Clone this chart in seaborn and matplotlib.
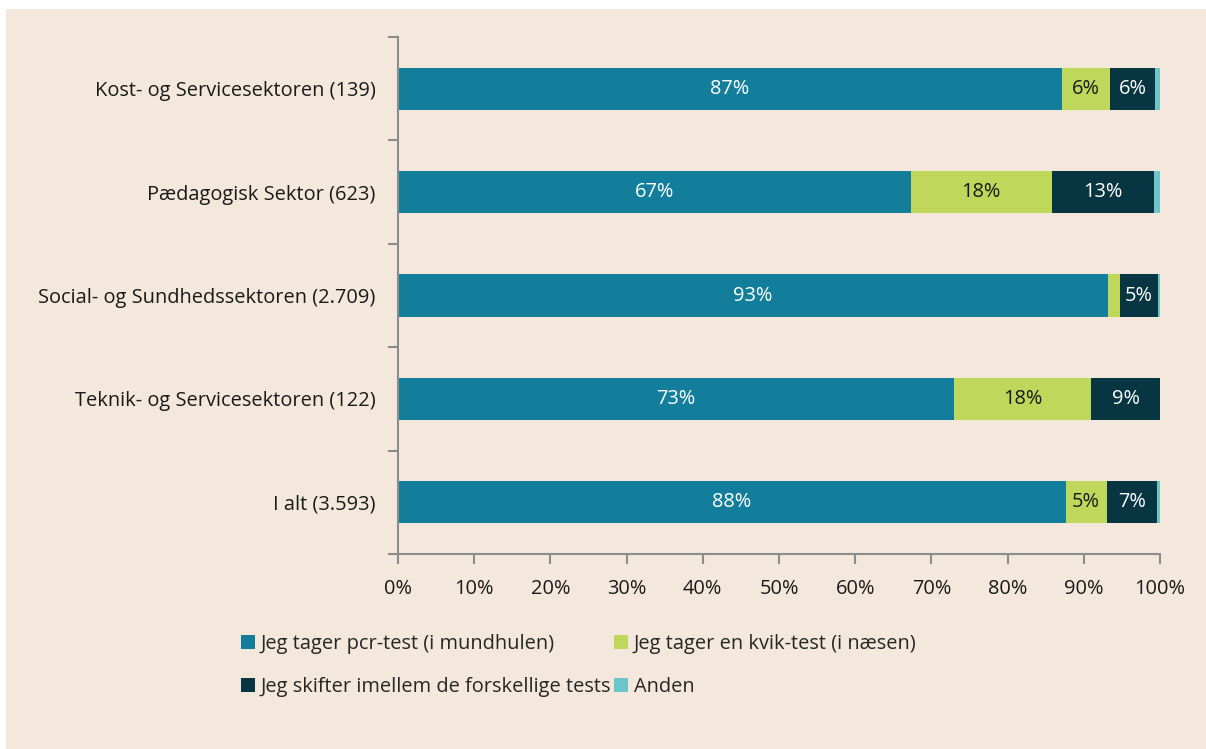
import numpy as np
import pandas as pd
import matplotlib
matplotlib.use("Agg")
import matplotlib.pyplot as plt
from matplotlib.patches import Rectangle, Patch
import seaborn as sns

categories = ["Kost- og Servicesektoren (139)", "Pædagogisk Sektor (623)",
              "Social- og Sundhedssektoren (2.709)", "Teknik- og Servicesektoren (122)",
              "I alt (3.593)"]
series = ["Jeg tager pcr-test (i mundhulen)", "Jeg tager en kvik-test (i næsen)",
          "Jeg skifter imellem de forskellige tests", "Anden"]
pcr = [87.1, 67.3, 93.2, 73.0, 87.6]
kvik = [6.4, 18.5, 1.6, 18.0, 5.4]
skifter = [5.8, 13.4, 4.9, 9.0, 6.6]
anden = [0.7, 0.8, 0.3, 0.0, 0.4]
colors = ["#137e9c", "#bfd75a", "#073642", "#6cc5c8"]
label_colors = ["white", "#1a1a1a", "white", "white"]

bg = "#f4e8dc"
fs = 14.4
sns.set_theme(style="white")
plt.rcParams["font.family"] = ["Open Sans", "DejaVu Sans"]

df = pd.DataFrame({"cat": categories, series[0]: pcr, series[1]: kvik,
                   series[2]: skifter, series[3]: anden})
vals = df[series].to_numpy()
cum = np.cumsum(vals, axis=1)

fig = plt.figure(figsize=(12.06, 7.49), dpi=100, facecolor="white")
fig.patches.append(Rectangle((6 / 1206, 0), 1, 1 - 9 / 749, transform=fig.transFigure,
                             facecolor=bg, edgecolor="none", zorder=-1))
ax = fig.add_axes([398 / 1206, 1 - 554 / 749, 762 / 1206, 517 / 749])
ax.set_facecolor(bg)

# stacked by drawing cumulative totals from the back forward
for i in range(len(series) - 1, -1, -1):
    d = pd.DataFrame({"cat": categories, "v": cum[:, i]})
    sns.barplot(data=d, x="v", y="cat", orient="h", color=colors[i], saturation=1,
                width=0.41, ax=ax, linewidth=0)

for r in range(len(categories)):
    for i in range(3):
        v = vals[r, i]
        if v >= 4.5:
            x = cum[r, i] - v / 2
            ax.text(x, r, f"{round(v):.0f}%", ha="center", va="center",
                    color=label_colors[i], fontsize=fs)

ax.set_xlim(0, 100)
ax.set_ylim(len(categories) - 0.5, -0.5)
ax.set_xticks(np.arange(0, 101, 10))
ax.set_xticklabels([f"{t}%" for t in range(0, 101, 10)])
ax.set_yticks(range(len(categories)))
ax.set_yticks(np.arange(-0.5, len(categories), 1), minor=True)
ax.set_xlabel("")
ax.set_ylabel("")
for s in ["top", "right"]:
    ax.spines[s].set_visible(False)
for s in ["left", "bottom"]:
    ax.spines[s].set_color("#8c8c8c")
    ax.spines[s].set_linewidth(1.5)
ax.tick_params(axis="y", which="major", length=0, pad=16, labelsize=fs, labelcolor="#1a1a1a")
ax.tick_params(axis="y", which="minor", left=True, length=7, width=1.5, color="#8c8c8c")
ax.tick_params(axis="x", bottom=True, length=7, width=1.5, color="#8c8c8c",
               labelsize=fs, labelcolor="#1a1a1a", pad=11)

# legend fills row by row: pcr, kvik / skifter, anden
order = [0, 2, 1, 3]
handles = [Patch(facecolor=colors[i], edgecolor="none") for i in order]
fig.legend(handles, [series[i] for i in order], loc="upper left",
           bbox_to_anchor=(223 / 1206, 1 - 616 / 749),
           ncol=2, frameon=False, fontsize=fs, handlelength=0.7, handleheight=0.7,
           handletextpad=0.3, columnspacing=0.1, labelspacing=1.15)

fig.savefig("out.png", dpi=100, facecolor=fig.get_facecolor())
